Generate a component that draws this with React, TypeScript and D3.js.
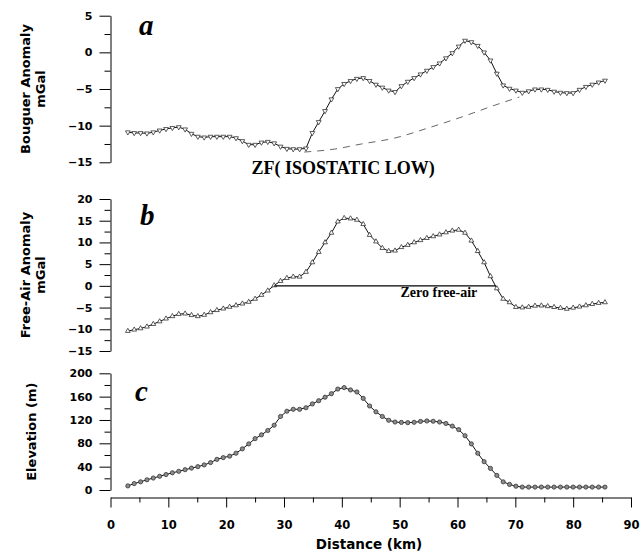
import React, { useRef, useEffect } from 'react';
import * as d3 from 'd3';

// sample positions along the profile (km)
const distanceKm = [
  3.0, 4.1, 5.2, 6.3, 7.4, 8.5, 9.6, 10.7, 11.8, 12.9, 14.0, 15.1, 16.2, 17.3, 18.4, 19.5,
  20.6, 21.7, 22.8, 23.9, 25.0, 26.1, 27.2, 28.3, 29.4, 30.5, 31.6, 32.7, 33.8, 34.9, 36.0,
  37.1, 38.2, 39.3, 40.4, 41.5, 42.6, 43.7, 44.8, 45.9, 47.0, 48.1, 49.2, 50.3, 51.4, 52.5,
  53.6, 54.7, 55.8, 56.9, 58.0, 59.1, 60.2, 61.3, 62.4, 63.5, 64.6, 65.7, 66.8, 67.9, 69.0,
  70.1, 71.2, 72.3, 73.4, 74.5, 75.6, 76.7, 77.8, 78.9, 80.0, 81.1, 82.2, 83.3, 84.4, 85.5,
];

const bouguerMgal = [
  -10.9, -11.0, -11.0, -11.05, -10.9, -10.65, -10.45, -10.3, -10.2, -10.5, -11.1, -11.5, -11.6, -11.5, -11.5, -11.5,
  -11.5, -11.7, -12.1, -12.6, -12.6, -12.3, -12.2, -12.4, -12.85, -13.15, -13.2, -13.2, -13.1, -11.0, -9.5,
  -8.0, -6.4, -5.0, -4.3, -3.9, -3.6, -3.5, -3.9, -4.4, -4.8, -5.2, -5.4, -4.6, -4.0, -3.5,
  -3.0, -2.5, -2.0, -1.5, -0.8, -0.1, 0.8, 1.6, 1.4, 0.9, 0.0, -1.1, -2.9, -4.5, -4.95,
  -5.2, -5.5, -5.3, -5.05, -5.05, -5.1, -5.35, -5.5, -5.55, -5.55, -5.1, -4.7, -4.4, -4.1, -3.85,
];

const freeAirMgal = [
  -10.4, -10.1, -9.8, -9.4, -8.8, -8.2, -7.55, -7.0, -6.5, -6.4, -6.75, -7.0, -6.7, -6.1, -5.6, -5.25,
  -4.85, -4.5, -4.1, -3.7, -3.0, -2.1, -1.1, 0.1, 1.1, 1.8, 2.1, 2.1, 3.2, 5.4, 7.8,
  10.0, 12.2, 14.8, 15.6, 15.5, 15.2, 14.2, 11.7, 10.2, 8.7, 8.0, 8.1, 8.9, 9.4, 10.0,
  10.5, 11.0, 11.4, 11.8, 12.3, 12.7, 12.9, 12.2, 10.4, 8.0, 5.4, 2.2, -0.6, -3.0, -3.8,
  -4.9, -5.0, -4.85, -4.6, -4.55, -4.7, -4.9, -5.1, -5.3, -5.05, -4.8, -4.5, -4.2, -3.95, -3.8,
];

const elevationM = [
  7, 11, 14, 17.5, 20.5, 23.5, 26.5, 29.5, 32, 34.8, 37.5, 40, 43, 47, 52.5, 55.5,
  58, 63, 70.5, 79, 88, 94.5, 102, 111, 126, 135, 138.3, 138.3, 141, 147.5, 153,
  159, 165, 173, 175.5, 171.5, 168, 157, 144, 134, 126, 119.5, 116.5, 115.8, 115.4, 116,
  117.5, 118.3, 117.8, 116.5, 114, 109.5, 103.5, 93, 79, 63, 48.5, 37, 25, 14, 9.5,
  6.5, 5, 5, 5, 5, 5, 5, 5, 5, 5, 5, 5, 5, 5, 5,
];

// ZF isostatic low (dashed)
const isoLowKm = [33.5, 38.7, 43.4, 49.1, 55.0, 60.8, 66.5, 70.7];
const isoLowMgal = [-13.6, -13.2, -12.5, -11.7, -10.3, -8.8, -7.2, -6.1];

// zero free-air reference line
const zeroLineKm = [28.3, 66.6];

const xTickValues = [0, 10, 20, 30, 40, 50, 60, 70, 80, 90];
const bouguerTicks = [5, 0, -5, -10, -15];
const freeAirTicks = [20, 15, 10, 5, 0, -5, -10, -15];
const elevationTicks = [200, 160, 120, 80, 40, 0];

const W = 642;
const H = 553;
const SANS = '"DejaVu Sans", Verdana, sans-serif';
const SERIF = '"Liberation Serif", "Times New Roman", serif';

export default function App() {
  const svgRef = useRef<SVGSVGElement>(null);

  useEffect(() => {
    if (!svgRef.current) return;
    const svg = d3.select(svgRef.current);
    svg.selectAll('*').remove();

    const x = d3.scaleLinear().domain([0, 90]).range([110.5, 631]);

    const panels = [
      {
        values: bouguerMgal, domain: [-15, 5], range: [162.3, 15.7], ticks: bouguerTicks,
        minor: 2.5, marker: 'down', title: ['Bouguer Anomaly', 'mGal'], letter: 'a', letterPos: [139, 35],
      },
      {
        values: freeAirMgal, domain: [-15, 20], range: [351, 199], ticks: freeAirTicks,
        minor: 2.5, marker: 'up', title: ['Free-Air Anomaly', 'mGal'], letter: 'b', letterPos: [140, 225],
      },
      {
        values: elevationM, domain: [0, 200], range: [490, 373.3], ticks: elevationTicks,
        minor: 20, marker: 'dot', title: ['Elevation (m)'], letter: 'c', letterPos: [135, 401],
      },
    ];

    panels.forEach((p) => {
      const y = d3.scaleLinear().domain(p.domain).range(p.range);
      const minorTicks = d3
        .range(p.domain[0], p.domain[1] + 0.001, p.minor)
        .filter((v) => !p.ticks.includes(v));

      // y axis
      svg
        .append('g')
        .attr('transform', 'translate(110.5,0)')
        .call(d3.axisLeft(y).tickValues(p.ticks).tickSize(11).tickSizeOuter(0).tickPadding(7))
        .call((g) => {
          g.selectAll('text')
            .attr('font-family', SANS)
            .attr('font-weight', 'bold')
            .attr('font-size', 11)
            .attr('fill', '#000');
          g.selectAll('line,path').attr('stroke', '#000');
        });
      svg
        .append('g')
        .attr('transform', 'translate(110.5,0)')
        .call(d3.axisLeft(y).tickValues(minorTicks).tickSize(6).tickSizeOuter(0).tickFormat(() => ''))
        .call((g) => {
          g.select('.domain').remove();
          g.selectAll('line').attr('stroke', '#000');
        });

      // axis title
      const cy = (p.range[0] + p.range[1]) / 2;
      const lines = p.title;
      const baseX = lines.length === 2 ? 30 : 36;
      lines.forEach((t, i) => {
        svg
          .append('text')
          .attr('transform', `translate(${baseX + i * 15},${cy}) rotate(-90)`)
          .attr('text-anchor', 'middle')
          .attr('font-family', SANS)
          .attr('font-weight', 'bold')
          .attr('font-size', 13)
          .attr('fill', '#000')
          .text(t);
      });

      // panel letter
      svg
        .append('text')
        .attr('x', p.letterPos[0])
        .attr('y', p.letterPos[1])
        .attr('font-family', SERIF)
        .attr('font-weight', 'bold')
        .attr('font-style', 'italic')
        .attr('font-size', 29)
        .attr('fill', '#000')
        .text(p.letter);

      const pts = distanceKm.map((d, i) => [x(d), y(p.values[i])] as [number, number]);

      svg
        .append('path')
        .attr('d', d3.line()(pts))
        .attr('fill', 'none')
        .attr('stroke', '#111')
        .attr('stroke-width', 1);

      if (p.marker === 'dot') {
        svg
          .append('g')
          .selectAll('circle')
          .data(pts)
          .join('circle')
          .attr('cx', (d) => d[0])
          .attr('cy', (d) => d[1])
          .attr('r', 2.1)
          .attr('fill', '#8c8c8c')
          .attr('stroke', '#333')
          .attr('stroke-width', 0.8);
      } else {
        const sym = d3.symbol().type(d3.symbolTriangle).size(10);
        svg
          .append('g')
          .selectAll('path')
          .data(pts)
          .join('path')
          .attr('d', sym() as string)
          .attr('transform', (d) => `translate(${d[0]},${d[1]})${p.marker === 'down' ? ' rotate(180)' : ''}`)
          .attr('fill', '#fff')
          .attr('stroke', '#333')
          .attr('stroke-width', 0.8);
      }

      if (p.letter === 'a') {
        svg
          .append('path')
          .attr('d', d3.line().curve(d3.curveMonotoneX)(isoLowKm.map((d, i) => [x(d), y(isoLowMgal[i])] as [number, number])))
          .attr('fill', 'none')
          .attr('stroke', '#555')
          .attr('stroke-width', 0.9)
          .attr('stroke-dasharray', '7,6');
        svg
          .append('text')
          .attr('x', 251.5)
          .attr('y', 174)
          .attr('font-family', SERIF)
          .attr('font-weight', 'bold')
          .attr('font-size', 18)
          .attr('fill', '#000')
          .text('ZF( ISOSTATIC LOW)');
      }

      if (p.letter === 'b') {
        svg
          .append('line')
          .attr('x1', x(zeroLineKm[0]))
          .attr('x2', x(zeroLineKm[1]))
          .attr('y1', y(0))
          .attr('y2', y(0))
          .attr('stroke', '#000')
          .attr('stroke-width', 1.1);
        svg
          .append('text')
          .attr('x', 400.5)
          .attr('y', 297)
          .attr('font-family', SERIF)
          .attr('font-weight', 'bold')
          .attr('font-size', 14)
          .attr('fill', '#000')
          .text('Zero free-air');
      }
    });

    // x axis
    svg
      .append('g')
      .attr('transform', 'translate(0,497.5)')
      .call(d3.axisBottom(x).tickValues(xTickValues).tickSize(10).tickSizeOuter(0).tickPadding(13))
      .call((g) => {
        g.selectAll('text')
          .attr('font-family', SANS)
          .attr('font-weight', 'bold')
          .attr('font-size', 11.5)
          .attr('fill', '#000');
        g.selectAll('line,path').attr('stroke', '#000');
      });
    svg
      .append('g')
      .attr('transform', 'translate(0,497.5)')
      .call(
        d3.axisBottom(x)
          .tickValues(xTickValues.slice(0, -1).map((v) => v + 5))
          .tickSize(5)
          .tickSizeOuter(0)
          .tickFormat(() => ''),
      )
      .call((g) => {
        g.select('.domain').remove();
        g.selectAll('line').attr('stroke', '#000');
      });

    svg
      .append('text')
      .attr('x', 369)
      .attr('y', 549)
      .attr('text-anchor', 'middle')
      .attr('font-family', SANS)
      .attr('font-weight', 'bold')
      .attr('font-size', 13.5)
      .attr('fill', '#000')
      .text('Distance (km)');
  }, []);

  return (
    <svg
      ref={svgRef}
      width={W}
      height={H}
      style={{ position: 'absolute', left: 0, top: 0, background: '#fff' }}
    />
  );
}
